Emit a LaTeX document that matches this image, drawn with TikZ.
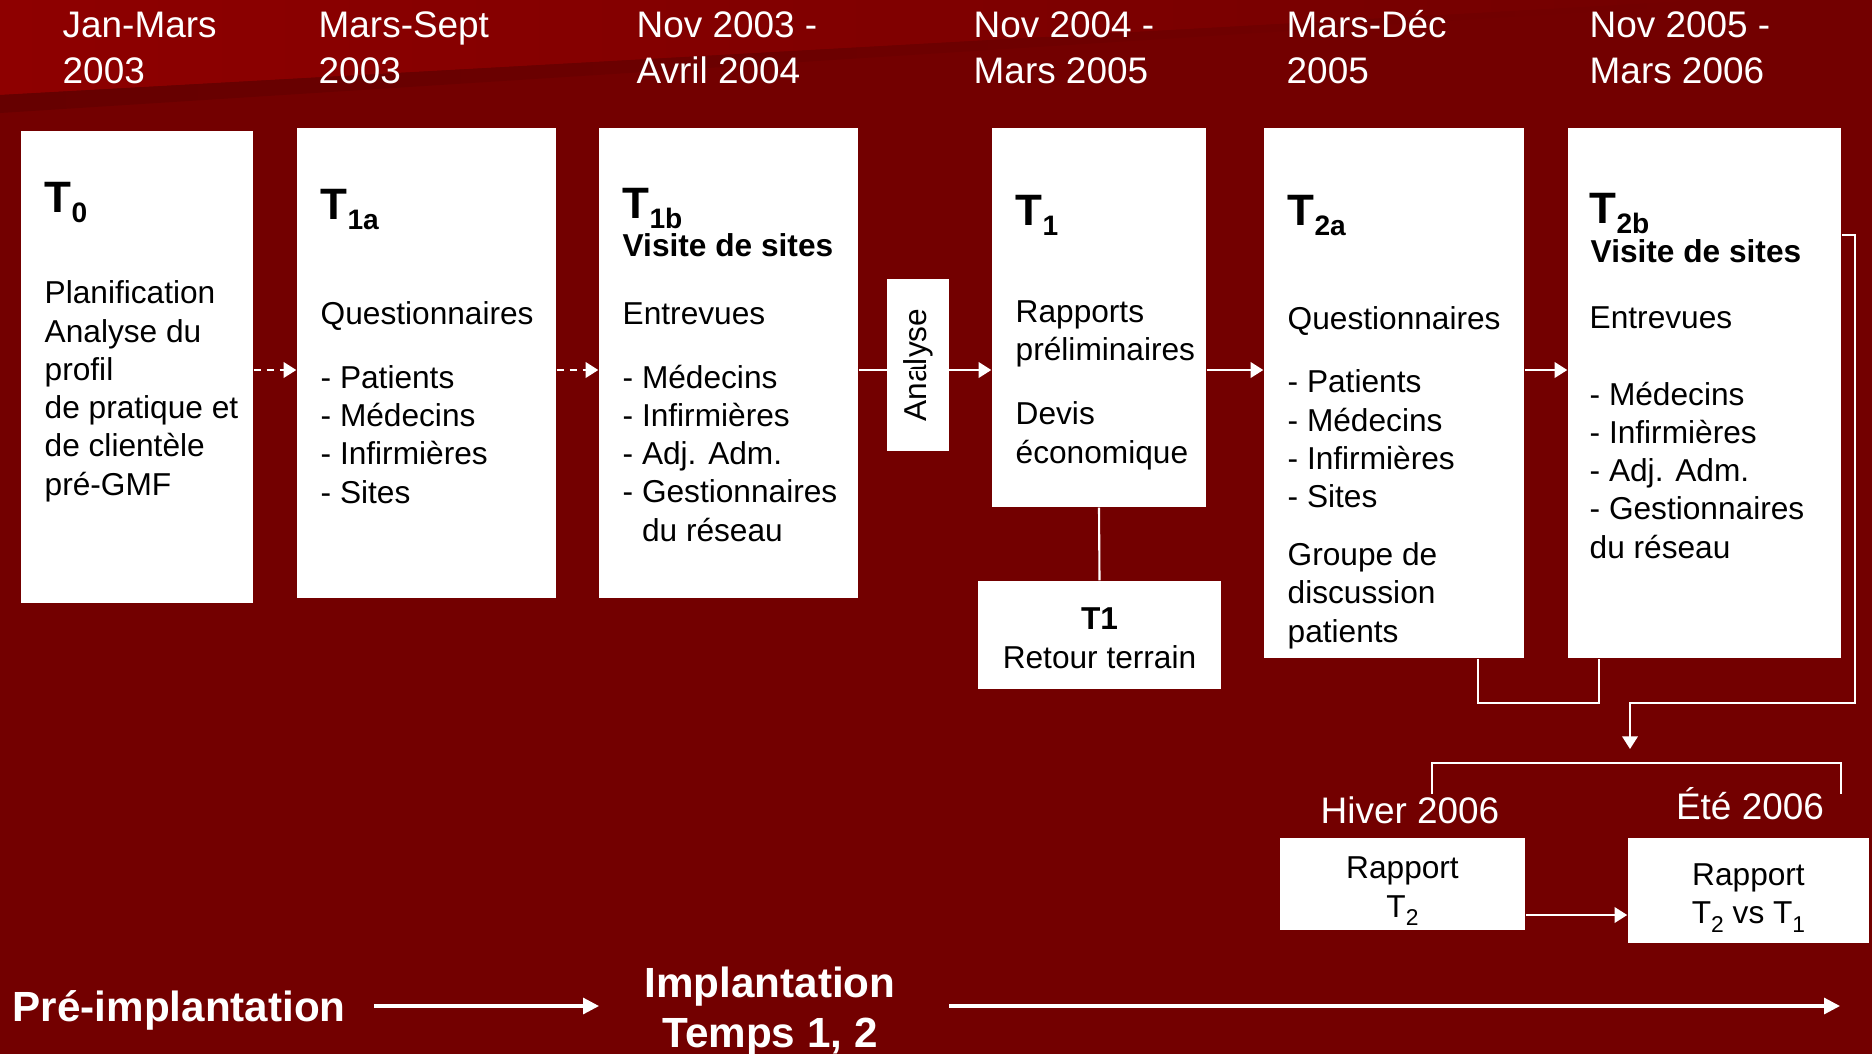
\documentclass[tikz,border=0pt]{standalone}
\usepackage{fontspec}
\setmainfont{Liberation Sans}
\usetikzlibrary{arrows.meta,fit}
\definecolor{bgred}{HTML}{730000}
\definecolor{topred}{HTML}{8E0000}
\definecolor{shadowred}{HTML}{660000}
\newcommand{\Tsub}[1]{T\raisebox{-3pt}{\fontsize{8pt}{8pt}\selectfont #1}}
\newcommand{\nsub}[1]{\raisebox{-2.5pt}{\fontsize{6.5pt}{6.5pt}\selectfont #1}}
\begin{document}
\begin{tikzpicture}[x=0.01cm,y=-0.01cm,
  box/.style={fill=white,draw=none,inner sep=0pt},
  body/.style={anchor=base west,inner sep=0pt,align=left,font=\fontsize{9pt}{10.87pt}\selectfont,text=black},
  visite/.style={anchor=base west,inner sep=0pt,font=\fontsize{9pt}{10.87pt}\selectfont\bfseries,text=black},
  datelbl/.style={anchor=base west,inner sep=0pt,align=left,font=\fontsize{10.5pt}{12.8pt}\selectfont,text=white},
  seasonlbl/.style={anchor=base,inner sep=0pt,font=\fontsize{10.5pt}{12.8pt}\selectfont,text=white},
  head/.style={anchor=base west,inner sep=0pt,font=\fontsize{12.5pt}{15pt}\selectfont\bfseries,text=black},
  phase/.style={inner sep=0pt,align=center,font=\fontsize{12pt}{14.2pt}\selectfont\bfseries,text=white},
  conn/.style={draw=white,line width=0.6pt},
  arr/.style={conn,-{Triangle[length=3.6pt,width=4.4pt]}},
  dasharr/.style={arr,dash pattern=on 2.2pt off 1.5pt},
  bigarr/.style={draw=white,line width=0.9pt,-{Triangle[length=4.5pt,width=4.5pt]}}
]
\useasboundingbox (0,0) rectangle (1872,1054);
\fill[bgred] (0,0) rectangle (1872,1054);
\shade[left color=topred,right color=bgred] (0,0) -- (1712,0) -- (0,95) -- cycle;
\shade[left color=shadowred,right color=bgred] (0,95) -- (1712,0) -- (1712,4) -- (0,113) -- cycle;

% date labels (anchored at the baseline of the last line)
\node[datelbl] (d0) at (62,83) {Jan-Mars\\2003};
\node[datelbl] (d1a) at (318,83) {Mars-Sept\\2003};
\node[datelbl] (d1b) at (636,83) {Nov 2003 -\\Avril 2004};
\node[datelbl] (d1) at (973,83) {Nov 2004 -\\Mars 2005};
\node[datelbl] (d2a) at (1286,83) {Mars-Déc\\2005};
\node[datelbl] (d2b) at (1589,83) {Nov 2005 -\\Mars 2006};

% boxes
\node[box,fit={(21,131) (253,603)}] (t0) {};
\node[box,fit={(297,128) (556,598)}] (t1a) {};
\node[box,fit={(599,128) (858,598)}] (t1b) {};
\node[box,fit={(992,128) (1206,507)}] (t1) {};
\node[box,fit={(1264,128) (1524,658)}] (t2a) {};
\node[box,fit={(1568,128) (1841,658)}] (t2b) {};
\node[box,rotate=90,minimum width=1.72cm,minimum height=0.62cm,font=\fontsize{9pt}{10.87pt}\selectfont] (an) at (918,365) {Analyse};
\node[box,minimum width=2.43cm,minimum height=1.08cm,align=center,font=\fontsize{9pt}{10.87pt}\selectfont] (ret) at (1099.5,635) {\rule{0pt}{8pt}\textbf{T1}\\Retour terrain};
\node[box,minimum width=2.45cm,minimum height=0.92cm,align=center,font=\fontsize{9pt}{10.87pt}\selectfont] (r2) at (1402.5,884) {\rule{0pt}{10.5pt}Rapport\\T\nsub{2}};
\node[box,minimum width=2.41cm,minimum height=1.05cm,align=center,font=\fontsize{9pt}{10.87pt}\selectfont] (r21) at (1748.5,890.5) {\rule{0pt}{10.5pt}Rapport\\T\nsub{2} vs T\nsub{1}};

% box texts (multi-line nodes anchored at the baseline of their last line)
\node[head] (h0) at (44,212) {\Tsub{0}};
\node[body] (b0) at (44,495) {Planification\\Analyse du\\profil\\de pratique et\\de clientèle\\pré-GMF};

\node[head] (h1a) at (320,219) {\Tsub{1a}};
\node[body] (b1a) at (320,503) {Questionnaires\\[7.3pt]- Patients\\- Médecins\\- Infirmières\\- Sites};

\node[head] (h1b) at (622,218) {\Tsub{1b}};
\node[visite] (v1b) at (622,256) {Visite de sites};
\node[body] (b1b) at (622,541) {Entrevues\\[7.3pt]- Médecins\\- Infirmières\\- Adj. Adm.\\- Gestionnaires\\\phantom{- }du réseau};

\node[head] (h1) at (1015,225) {\Tsub{1}};
\node[body] (b1) at (1015,463) {Rapports\\préliminaires\\[7.3pt]Devis\\économique};

\node[head] (h2a) at (1287,225) {\Tsub{2a}};
\node[body] (b2a) at (1287,642) {Questionnaires\\[7.3pt]- Patients\\- Médecins\\- Infirmières\\- Sites\\[5.6pt]Groupe de\\discussion\\patients};

\node[head] (h2b) at (1589,223) {\Tsub{2b}};
\node[visite] (v2b) at (1590,262) {Visite de sites};
\node[body] (b2b) at (1589,558) {Entrevues\\[10.8pt]- Médecins\\- Infirmières\\- Adj. Adm.\\- Gestionnaires\\du réseau};

% season labels
\node[seasonlbl] (hiver) at (1410,823) {Hiver 2006};
\node[seasonlbl] (ete) at (1750,819) {Été 2006};

% phase labels
\node[phase,anchor=base west] (pre) at (12,1021) {Pré-implantation};
\node[phase,anchor=base] (impl) at (770,1047) {Implantation\\Temps 1, 2};

% connectors
\coordinate (ymain) at (0,370);
\draw[dasharr] (t0.east |- ymain) -- (t1a.west |- ymain);
\draw[dasharr] (t1a.east |- ymain) -- (t1b.west |- ymain);
\draw[conn] (t1b.east |- ymain) -- (an.south |- ymain);
\draw[arr] (an.north |- ymain) -- (t1.west |- ymain);
\draw[arr] (t1.east |- ymain) -- (t2a.west |- ymain);
\draw[arr] (t2a.east |- ymain) -- (t2b.west |- ymain);
\draw[conn] (t1.south) -- (ret.north);

\coordinate (c1) at (1478,703);
\coordinate (c2) at (1599,703);
\draw[conn] (t2a.south -| c1) -- (c1) -- (c2) -- (t2b.south -| c2);

\coordinate (e1) at (1855,235);
\coordinate (e2) at (1855,703);
\coordinate (e3) at (1630,703);
\coordinate (e4) at (1630,749);
\draw[arr] (t2b.east |- e1) -- (e1) -- (e2) -- (e3) -- (e4);

\coordinate (k1) at (1432,794);
\coordinate (k2) at (1432,763);
\coordinate (k3) at (1841,763);
\coordinate (k4) at (1841,794);
\draw[conn] (k1) -- (k2) -- (k3) -- (k4);

\coordinate (yr) at (0,915);
\draw[arr] (r2.east |- yr) -- (r21.west |- yr);

\coordinate (p1) at (374,1006);
\coordinate (p2) at (599,1006);
\coordinate (p3) at (949,1006);
\coordinate (p4) at (1840,1006);
\draw[bigarr] (p1) -- (p2);
\draw[bigarr] (p3) -- (p4);
\end{tikzpicture}
\end{document}
